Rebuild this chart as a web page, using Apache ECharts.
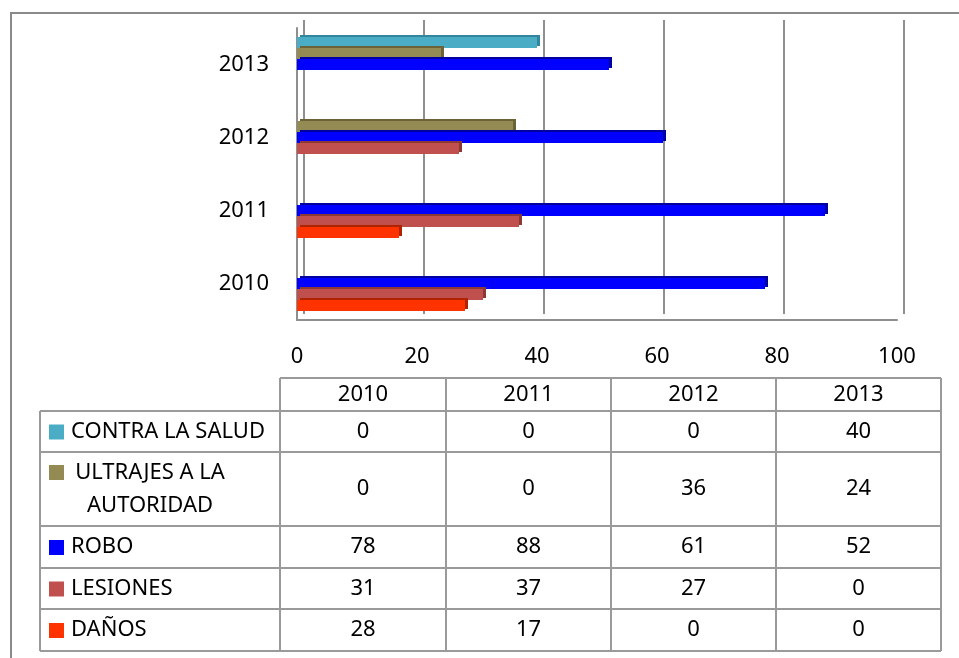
<!DOCTYPE html>
<html>
<head>
<meta charset="utf-8">
<script src="https://cdn.jsdelivr.net/npm/echarts@6/dist/echarts.min.js"></script>
<style>
  html, body { margin: 0; padding: 0; background: #fff; }
  #chart { width: 959px; height: 658px; }
</style>
</head>
<body>
<div id="chart"></div>
<script>
// datos de la grafica
var years = ['2010', '2011', '2012', '2013']
var seriesNames = ['CONTRA LA SALUD', 'ULTRAJES A LA\nAUTORIDAD', 'ROBO', 'LESIONES', 'DAÑOS']
var contraSalud = [0, 0, 0, 40]
var ultrajes = [0, 0, 36, 24]
var robo = [78, 88, 61, 52]
var lesiones = [31, 37, 27, 0]
var danos = [28, 17, 0, 0]
var xTicks = [0, 20, 40, 60, 80, 100]

var values = [contraSalud, ultrajes, robo, lesiones, danos]
var colors = ['#4BACC6', '#948A54', '#0000FF', '#C0504D', '#FF3300']
var sideColors = ['#31859C', '#6B6238', '#0000A0', '#8C3836', '#B02300']

var FONT = 'Noto Sans'
var lineColor = '#8f8f8f'

var chart = echarts.init(document.getElementById('chart'))

// series: la primera queda arriba en cada categoria
var series = values.map(function (v, i) {
  return {
    name: seriesNames[i],
    type: 'bar',
    xAxisIndex: 0,
    yAxisIndex: 0,
    barWidth: 11,
    barGap: '0%',
    itemStyle: {
      color: colors[i],
      // efecto 3D (cara superior y lateral)
      shadowColor: sideColors[i],
      shadowOffsetX: 3,
      shadowOffsetY: -2,
      shadowBlur: 0
    },
    data: v
  }
})

// tabla de datos abajo
var colX = [280, 446, 611, 776, 941]
var rowY = [411, 452, 526, 568, 609, 651]
var headTop = 378
var labelLeft = 40
var tableGraphic = []
var border = { stroke: '#9a9a9a', lineWidth: 2 }

// lineas horizontales
tableGraphic.push({ type: 'line', shape: { x1: colX[0], y1: headTop, x2: colX[4], y2: headTop }, style: border })
rowY.forEach(function (y) {
  tableGraphic.push({ type: 'line', shape: { x1: labelLeft, y1: y, x2: colX[4], y2: y }, style: border })
})
// lineas verticales
tableGraphic.push({ type: 'line', shape: { x1: labelLeft, y1: rowY[0], x2: labelLeft, y2: rowY[5] }, style: border })
colX.forEach(function (x) {
  tableGraphic.push({ type: 'line', shape: { x1: x, y1: headTop, x2: x, y2: rowY[5] }, style: border })
})
// encabezado
years.forEach(function (yr, c) {
  tableGraphic.push({
    type: 'text',
    style: { text: yr, x: (colX[c] + colX[c + 1]) / 2, y: (headTop + rowY[0]) / 2, align: 'center', verticalAlign: 'middle', font: '22px "' + FONT + '"', fill: '#000' }
  })
})
// filas
seriesNames.forEach(function (name, r) {
  var cy = (rowY[r] + rowY[r + 1]) / 2
  var multi = name.indexOf('\n') >= 0
  tableGraphic.push({ type: 'rect', shape: { x: 49, y: multi ? 465 : cy - 7, width: 15, height: 15 }, style: { fill: colors[r] } })
  tableGraphic.push({
    type: 'text',
    style: {
      text: name, x: multi ? 150 : 71, y: cy, align: multi ? 'center' : 'left', verticalAlign: 'middle',
      font: '22px "' + FONT + '"', lineHeight: 33, fill: '#000'
    }
  })
  years.forEach(function (yr, c) {
    tableGraphic.push({
      type: 'text',
      style: { text: String(values[r][c]), x: (colX[c] + colX[c + 1]) / 2, y: cy, align: 'center', verticalAlign: 'middle', font: '22px "' + FONT + '"', fill: '#000' }
    })
  })
})

// marco exterior
tableGraphic.push({ type: 'polyline', shape: { points: [[11, 658], [11, 13], [959, 13]] }, style: { stroke: '#8a8a8a', lineWidth: 2, fill: null } })

var option = {
  backgroundColor: '#fff',
  animation: false,
  textStyle: { fontFamily: FONT },
  grid: [
    // plano frontal (barras)
    { left: 297, right: 62, top: 28, bottom: 338 },
    // pared del fondo (lineas de division)
    { left: 304, right: 55, top: 20, bottom: 344 }
  ],
  xAxis: [
    {
      gridIndex: 0,
      type: 'value',
      min: xTicks[0],
      max: xTicks[xTicks.length - 1],
      interval: xTicks[1] - xTicks[0],
      axisLine: { show: true, lineStyle: { color: lineColor, width: 2 } },
      axisTick: { show: false },
      splitLine: { show: false },
      axisLabel: { fontSize: 22, color: '#000', margin: 26, fontFamily: FONT }
    },
    {
      gridIndex: 1,
      type: 'value',
      min: xTicks[0],
      max: xTicks[xTicks.length - 1],
      interval: xTicks[1] - xTicks[0],
      axisLine: { show: false },
      axisTick: { show: false },
      axisLabel: { show: false },
      splitLine: { show: true, lineStyle: { color: lineColor, width: 2 } }
    }
  ],
  yAxis: [
    {
      gridIndex: 0,
      type: 'category',
      data: years,
      axisLine: { show: true, lineStyle: { color: lineColor, width: 2 } },
      axisTick: { show: false },
      axisLabel: { fontSize: 22, color: '#000', margin: 28, fontFamily: FONT }
    },
    {
      gridIndex: 1,
      type: 'value',
      show: false
    }
  ],
  series: series,
  graphic: tableGraphic
}

chart.setOption(option)
</script>
</body>
</html>
